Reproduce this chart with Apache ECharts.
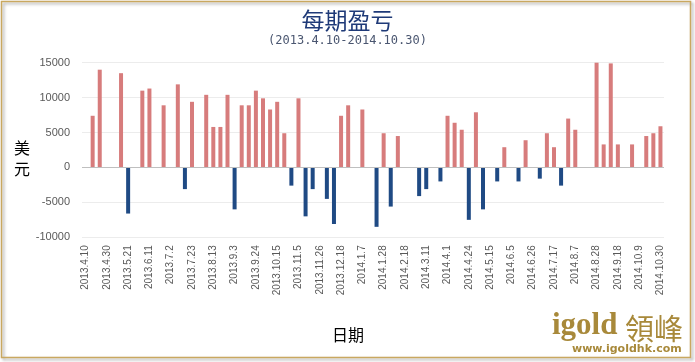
<!DOCTYPE html>
<html>
<head>
<meta charset="utf-8">
<script src="https://cdn.jsdelivr.net/npm/echarts@6/dist/echarts.min.js"></script>
<style>
html,body{margin:0;padding:0;background:#fff;}
#c{width:695px;height:362px;}
</style>
</head>
<body>
<div id="c"></div>
<script>
const categories = [
 '2013.4.10','2013.4.16','2013.4.23','2013.4.30','2013.5.7','2013.5.14','2013.5.21','2013.5.28','2013.6.4','2013.6.11',
 '2013.6.18','2013.6.25','2013.7.2','2013.7.9','2013.7.16','2013.7.23','2013.7.30','2013.8.6','2013.8.13','2013.8.20',
 '2013.8.27','2013.9.3','2013.9.10','2013.9.17','2013.9.24','2013.10.1','2013.10.8','2013.10.15','2013.10.22','2013.10.29',
 '2013.11.5','2013.11.12','2013.11.19','2013.11.26','2013.12.3','2013.12.10','2013.12.18','2013.12.24','2013.12.31','2014.1.7',
 '2014.1.14','2014.1.21','2014.1.28','2014.2.4','2014.2.11','2014.2.18','2014.2.25','2014.3.4','2014.3.11','2014.3.18',
 '2014.3.25','2014.4.1','2014.4.8','2014.4.15','2014.4.24','2014.5.1','2014.5.8','2014.5.15','2014.5.22','2014.5.29',
 '2014.6.5','2014.6.12','2014.6.19','2014.6.26','2014.7.3','2014.7.10','2014.7.17','2014.7.24','2014.7.31','2014.8.7',
 '2014.8.14','2014.8.21','2014.8.28','2014.9.4','2014.9.11','2014.9.18','2014.9.25','2014.10.2','2014.10.9','2014.10.16',
 '2014.10.23','2014.10.30'
];
const profitLoss = [
 0, 7400, 14000, 0, 0, 13500, -6600, 0, 11000, 11300,
 0, 8900, 0, 11900, -3100, 9400, 0, 10400, 5800, 5800,
 10400, -6000, 8900, 8900, 11000, 9900, 8300, 9400, 4900, -2600,
 9900, -7000, -3100, 0, -4500, -8100, 7400, 8900, 0, 8300,
 0, -8500, 4900, -5600, 4500, 0, 0, -4100, -3100, 0,
 -2000, 7400, 6400, 5400, -7500, 7900, -6000, 0, -2000, 2900,
 0, -2000, 3900, 0, -1600, 4900, 2900, -2600, 7000, 5400,
 0, 0, 15000, 3300, 14900, 3300, 0, 3300, 0, 4500,
 4900, 5900
];
const yTicks = { min: -10000, max: 15000, interval: 5000 };
const titleText = '每期盈亏';
const subtitleText = '(2013.4.10-2014.10.30)';

const chart = echarts.init(document.getElementById('c'), null, {renderer: 'canvas'});
chart.setOption({
  animation: false,
  backgroundColor: '#ffffff',
  title: {
    text: titleText,
    subtext: subtitleText,
    left: 'center',
    top: 4,
    itemGap: 3,
    textStyle: {fontFamily: 'Noto Sans CJK SC', fontSize: 23, fontWeight: 'normal', color: '#1f3a78'},
    subtextStyle: {fontFamily: 'DejaVu Sans Mono', fontSize: 12, color: '#4a5670'}
  },
  grid: {left: 82, right: 31, top: 62.7, bottom: 124.7, containLabel: false},
  xAxis: {
    type: 'category',
    data: categories,
    boundaryGap: true,
    axisLine: {show: false, onZero: false},
    axisTick: {show: false},
    axisLabel: {interval: 2, rotate: 90, margin: 8, fontSize: 10, color: '#595959', fontFamily: 'Liberation Sans'},
    splitLine: {show: false}
  },
  yAxis: {
    type: 'value',
    min: yTicks.min, max: yTicks.max, interval: yTicks.interval,
    axisLine: {show: false},
    axisTick: {show: false},
    axisLabel: {margin: 12, fontSize: 11, color: '#595959', fontFamily: 'Liberation Sans',
      formatter: function (v) { return String(v); }},
    splitLine: {show: true, lineStyle: {color: '#ececec', width: 1}}
  },
  series: [{
    type: 'bar',
    data: profitLoss,
    barWidth: 4,
    itemStyle: {
      color: function (p) { return p.value >= 0 ? '#d77c7c' : '#1f4a84'; }
    },
    markLine: {
      silent: true,
      symbol: 'none',
      label: {show: false},
      lineStyle: {color: '#bfbfbf', type: 'solid', width: 1},
      data: [{yAxis: 0}]
    }
  }],
  graphic: [
    {type: 'rect', shape: {x: 1.5, y: 1.5, width: 689, height: 356}, z: 100,
     style: {fill: 'none', stroke: '#c9a860', lineWidth: 1.5, shadowBlur: 3, shadowOffsetX: 2, shadowOffsetY: 2, shadowColor: 'rgba(0,0,0,0.35)'}},
    {type: 'text', left: 14, top: 137, z: 100,
     style: {text: '美\n元', font: '16px "Noto Sans CJK SC"', fill: '#000', lineHeight: 21}},
    {type: 'text', left: 332, top: 327, z: 100,
     style: {text: '日期', font: '16px "Noto Sans CJK SC"', fill: '#000'}},
    {type: 'text', left: 552, top: 310, z: 100,
     style: {text: 'igold', font: 'bold 31px "Liberation Serif"', fill: '#a8893a'}},
    {type: 'text', left: 625, top: 314, z: 100,
     style: {text: '領峰', font: '29px "Noto Sans CJK TC"', fill: '#a8893a'}},
    {type: 'text', left: 572, top: 344, z: 100,
     style: {text: 'www.igoldhk.com', font: 'bold 11px "DejaVu Sans"', fill: '#a8893a'}}
  ]
});
</script>
</body>
</html>
